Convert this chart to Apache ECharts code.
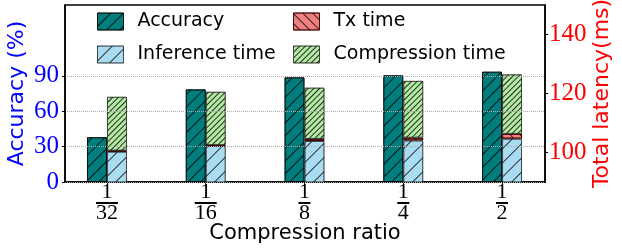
<!DOCTYPE html>
<html>
<head>
<meta charset="utf-8">
<script src="https://cdn.jsdelivr.net/npm/echarts@6/dist/echarts.min.js"></script>
<style>
  html, body { margin: 0; padding: 0; background: #fff; }
  #main { width: 622px; height: 249px; }
</style>
</head>
<body>
<div id="main"></div>
<script>
// compression ratios as fractions 1/n
var ratioNum = ['1', '1', '1', '1', '1'];
var ratioDen = ['32', '16', '8', '4', '2'];

// left axis (%)
var accuracy = [38, 78.5, 88.7, 90.4, 93.5];
// right axis (ms), stacked
var inferenceTime = [100.3, 102.2, 103.9, 104.1, 104.7];
var txTime = [0.3, 0.3, 0.7, 0.9, 1.6];
var compressionTime = [18.3, 18.1, 17.4, 19.3, 20.2];

var accTicks = [0, 30, 60, 90];
var latTicks = [100, 120, 140];

var numFont = 'Liberation Serif';
var txtFont = 'DejaVu Sans';

function hatch(gap, rot) {
    return {
        symbol: 'rect',
        symbolSize: 1,
        dashArrayX: [1, 0],
        dashArrayY: [1, gap],
        rotation: rot,
        color: 'rgba(0,0,0,0.8)'
    };
}

// value first, position second, so stacking works on the value
function pts(arr) {
    return arr.map(function (v, i) { return [v, i]; });
}

var legendText = { fontFamily: txtFont, fontSize: 19, color: '#000', lineHeight: 17, padding: [0, 0, 0, 9] };

var myChart = echarts.init(document.getElementById('main'));
var option = {
    animation: false,
    grid: {
        left: 65, right: 77, top: 5, bottom: 67,
        outerBoundsMode: 'none',
        containLabel: false,
        show: true, borderColor: '#000', borderWidth: 1.5
    },
    legend: [{
        orient: 'vertical',
        left: 92, top: 7,
        icon: 'rect',
        itemWidth: 26, itemHeight: 17, itemGap: 14,
        itemStyle: { borderWidth: 1 },
        textStyle: legendText,
        data: ['Accuracy', 'Inference time']
    }, {
        orient: 'vertical',
        left: 288, top: 7,
        icon: 'rect',
        itemWidth: 26, itemHeight: 17, itemGap: 14,
        itemStyle: { borderWidth: 1 },
        textStyle: legendText,
        data: ['Tx time', 'Compression time']
    }],
    xAxis: {
        type: 'value',
        min: -0.425,
        max: 4.435,
        name: 'Compression ratio',
        nameLocation: 'middle',
        nameGap: 41,
        nameMoveOverlap: false,
        nameTextStyle: { fontFamily: txtFont, fontSize: 21, color: '#000' },
        splitLine: { show: false },
        axisLine: { show: true, onZero: false, lineStyle: { color: '#000', width: 1.5 } },
        axisTick: { show: true, length: 4, customValues: [0, 1, 2, 3, 4], lineStyle: { color: '#000' } },
        axisLabel: {
            customValues: [0, 1, 2, 3, 4],
            margin: 2,
            formatter: function (v) {
                var i = Math.round(v);
                var d = ratioDen[i];
                return '{n|' + ratioNum[i] + '}\n{' + (d.length > 1 ? 'bw' : 'bn') + '| }\n{d|' + d + '}';
            },
            rich: {
                n: { fontFamily: numFont, fontSize: 22, lineHeight: 17, color: '#000', align: 'center' },
                d: { fontFamily: numFont, fontSize: 22, lineHeight: 16, color: '#000', align: 'center' },
                bw: { width: 22, height: 2, lineHeight: 4, fontSize: 1, backgroundColor: '#000', align: 'center' },
                bn: { width: 12, height: 2, lineHeight: 4, fontSize: 1, backgroundColor: '#000', align: 'center' }
            }
        }
    },
    yAxis: [{
        type: 'value',
        min: 0,
        max: 150,
        interval: 30,
        z: 5,
        name: 'Accuracy (%)',
        nameLocation: 'middle',
        nameGap: 37,
        nameMoveOverlap: false,
        nameTextStyle: { fontFamily: txtFont, fontSize: 22, color: '#0000ff' },
        axisLine: { show: true, onZero: false, lineStyle: { color: '#000', width: 1.5 } },
        axisTick: { show: true, length: 3, customValues: accTicks, lineStyle: { color: '#000' } },
        axisLabel: {
            customValues: accTicks, margin: 6,
            fontFamily: numFont, fontSize: 25, color: '#0000ff'
        },
        splitLine: { show: true, lineStyle: { color: '#aaa', type: 'dotted', width: 1 } }
    }, {
        type: 'value',
        min: 90,
        max: 150,
        interval: 10,
        name: 'Total latency(ms)',
        nameLocation: 'middle',
        nameGap: 46,
        nameMoveOverlap: false,
        nameTextStyle: { fontFamily: txtFont, fontSize: 22, color: '#ff0000' },
        axisLine: { show: true, onZero: false, lineStyle: { color: '#000', width: 1.5 } },
        axisTick: { show: true, length: 3, customValues: latTicks, lineStyle: { color: '#000' } },
        axisLabel: {
            customValues: latTicks, margin: 4,
            fontFamily: numFont, fontSize: 25, color: '#ff0000'
        },
        splitLine: { show: false }
    }],
    series: [{
        name: 'Accuracy',
        type: 'bar',
        yAxisIndex: 0,
        barWidth: 20,
        barGap: '0%',
        encode: { x: 1, y: 0 },
        itemStyle: { color: '#007d7d', borderColor: 'rgba(0,0,0,0.7)', borderWidth: 1, decal: hatch(8, -Math.PI / 4) },
        data: pts(accuracy)
    }, {
        name: 'Inference time',
        type: 'bar',
        yAxisIndex: 1,
        stack: 'lat',
        barWidth: 20,
        barGap: '0%',
        encode: { x: 1, y: 0 },
        itemStyle: { color: '#a9dbf1', borderColor: 'rgba(0,0,0,0.45)', borderWidth: 1, decal: hatch(9, -Math.PI / 4) },
        data: pts(inferenceTime)
    }, {
        name: 'Tx time',
        type: 'bar',
        yAxisIndex: 1,
        stack: 'lat',
        barWidth: 20,
        barGap: '0%',
        encode: { x: 1, y: 0 },
        itemStyle: { color: '#f08080', borderColor: 'rgba(60,0,0,0.8)', borderWidth: 1, decal: hatch(6, Math.PI / 4) },
        data: pts(txTime)
    }, {
        name: 'Compression time',
        type: 'bar',
        yAxisIndex: 1,
        stack: 'lat',
        barWidth: 20,
        barGap: '0%',
        encode: { x: 1, y: 0 },
        itemStyle: { color: '#b3eaa4', borderColor: 'rgba(0,0,0,0.45)', borderWidth: 1, decal: hatch(3, -Math.PI / 4) },
        data: pts(compressionTime)
    }]
};
myChart.setOption(option);
</script>
</body>
</html>
